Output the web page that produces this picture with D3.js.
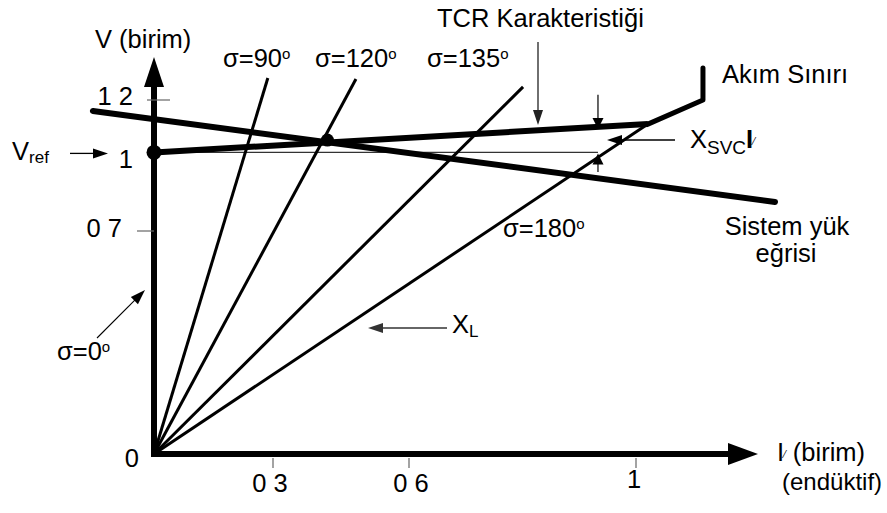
<!DOCTYPE html>
<html><head><meta charset="utf-8">
<script src="https://cdn.jsdelivr.net/npm/d3@7"></script>
<style>
body{margin:0;background:#fff}
svg{display:block;background:#fff}
text{font-family:"Liberation Sans",Arial,Helvetica,sans-serif;fill:#000}
</style>
</head><body>
<svg id="c" width="887" height="513"></svg>
<script>
// ---- data (per-unit, read from the schematic) ----
const xTickValues = [0.3, 0.6, 1];
const xTickLabels = ["0 3", "0 6", "1"];
const yTickValues = [1.2, 1, 0.7];
const yTickLabels = ["1 2", "1", "0 7"];
const sigmaNames = ["σ=90", "σ=120", "σ=135", "σ=180"];
const sigmaEndI = [0.287, 0.483, 0.801, 1.021];
const sigmaEndV = [1.284, 1.280, 1.250, 1.108];
const tcrI = [0, 1.021];
const tcrV = [1.0, 1.108];
const limitI = [1.021, 1.118, 1.118];
const limitV = [1.108, 1.2, 1.322];
const loadI = [-0.154, 1.245];
const loadV = [1.158, 0.811];
const vref = 1.0;
const opI = [0.42];
const opV = [1.047];
const svcMarkI = 0.933;
const svcMarkTopV = 1.22;
const svcMarkBotV = 0.925;

// ---- scales (schematic, piecewise) ----
const x = d3.scaleLinear().domain([0, 0.3, 0.6, 1]).range([154, 273, 409, 636]);
const y = d3.scaleLinear().domain([0, 0.7, 1.2]).range([454, 231, 100]);

const svg = d3.select("#c");
const g = svg.append("g");
const FS = 25.5;

function arrow(x1, y1, x2, y2, len, hw, sw, col) {
  col = col || "#000";
  const dx = x2 - x1, dy = y2 - y1, L = Math.hypot(dx, dy), ux = dx / L, uy = dy / L;
  const bx = x2 - ux * len, by = y2 - uy * len;
  g.append("line").attr("x1", x1).attr("y1", y1).attr("x2", bx + ux * 2).attr("y2", by + uy * 2)
    .attr("stroke", col).attr("stroke-width", sw);
  g.append("path").attr("d", `M${x2},${y2}L${bx - uy * hw},${by + ux * hw}L${bx + uy * hw},${by - ux * hw}Z`)
    .attr("fill", col);
}
function txt(xp, yp, s, size, anchor) {
  return g.append("text").attr("x", xp).attr("y", yp).attr("font-size", size)
    .attr("text-anchor", anchor || "start").text(s);
}

const line = d3.line().x(d => x(d[0])).y(d => y(d[1]));

// ---- Vref thin reference line ----
g.append("line").attr("x1", x(0)).attr("x2", x(svcMarkI)).attr("y1", y(vref)).attr("y2", y(vref))
  .attr("stroke", "#333").attr("stroke-width", 1.2);

// ---- sigma lines from origin ----
sigmaEndI.forEach((ei, i) => {
  g.append("path").attr("d", line([[0, 0], [ei, sigmaEndV[i]]]))
    .attr("stroke", "#000").attr("stroke-width", 3).attr("fill", "none");
});

// ---- axes ----
g.append("line").attr("x1", x(0)).attr("x2", 730).attr("y1", y(0)).attr("y2", y(0))
  .attr("stroke", "#000").attr("stroke-width", 6);
g.append("path").attr("d", `M758,${y(0)}L728,${y(0) - 11}L728,${y(0) + 11}Z`).attr("fill", "#000");
g.append("line").attr("x1", x(0)).attr("x2", x(0)).attr("y1", y(0) + 3).attr("y2", 85)
  .attr("stroke", "#000").attr("stroke-width", 6);
g.append("path").attr("d", `M${x(0)},57L${x(0) - 10},87L${x(0) + 10},87Z`).attr("fill", "#000");

// ---- ticks ----
const yTickX = [[147, 170], null, [137, 154]];
yTickValues.forEach((v, i) => {
  if (!yTickX[i]) return;
  g.append("line").attr("x1", yTickX[i][0]).attr("x2", yTickX[i][1]).attr("y1", y(v)).attr("y2", y(v))
    .attr("stroke", "#666").attr("stroke-width", 1.2);
});
const yLabelEnd = [133, 133, 122];
const yLabelDy = [5, 16, 6];
yTickValues.forEach((v, i) => txt(yLabelEnd[i], y(v) + yLabelDy[i], yTickLabels[i], FS, "end"));
xTickValues.forEach((v, i) => {
  g.append("line").attr("x1", x(v)).attr("x2", x(v)).attr("y1", y(0) + 4).attr("y2", y(0) + 14)
    .attr("stroke", "#666").attr("stroke-width", 1.2);
});
const xLabelDx = [-3, 2, -2];
const xLabelBase = [492, 492, 488];
xTickValues.forEach((v, i) => txt(x(v) + xLabelDx[i], xLabelBase[i], xTickLabels[i], FS, "middle"));
txt(139, 467, "0", FS, "end");

// ---- system load line ----
g.append("path").attr("d", line(loadI.map((d, i) => [d, loadV[i]])))
  .attr("stroke", "#000").attr("stroke-width", 6).attr("fill", "none").attr("stroke-linecap", "round");

// ---- TCR characteristic & current limit ----
g.append("path").attr("d", line(tcrI.map((d, i) => [d, tcrV[i]])))
  .attr("stroke", "#000").attr("stroke-width", 6).attr("fill", "none");
g.append("path").attr("d", line(limitI.map((d, i) => [d, limitV[i]])))
  .attr("stroke", "#000").attr("stroke-width", 5).attr("fill", "none")
  .attr("stroke-linecap", "round").attr("stroke-linejoin", "round");

// ---- points ----
g.append("circle").attr("cx", x(0)).attr("cy", y(vref)).attr("r", 7.5).attr("fill", "#000");
g.append("circle").attr("cx", x(opI[0])).attr("cy", y(opV[0])).attr("r", 6.5).attr("fill", "#000");

// ---- dimension arrows (X_SVC I) ----
const tcrPx = [[x(tcrI[0]), y(tcrV[0])], [x(tcrI[1]), y(tcrV[1])]];
const mx = x(svcMarkI);
const tcrAt = tcrPx[0][1] + (tcrPx[1][1] - tcrPx[0][1]) * (mx - tcrPx[0][0]) / (tcrPx[1][0] - tcrPx[0][0]);
arrow(mx, y(svcMarkTopV), mx, tcrAt + 2, 11, 5.5, 1.2);
arrow(mx, y(svcMarkBotV), mx, y(vref) + 1, 11, 5.5, 1.2);

// ---- annotation arrows ----
arrow(70, y(vref) + 1, 108, y(vref) + 1, 15, 5, 1.3);
arrow(538, 42, 538, 125, 15, 5, 1.3, "#222");
arrow(97, 338, 145, 290, 15, 5, 1.1);
arrow(447, 328, 368, 328, 15, 5, 1.3, "#333");
arrow(675, 140, 607, 140, 15, 5, 1.3);

// ---- labels ----
txt(95, 48, "V (birim)", FS);
const vr = txt(12, 160, "V", FS);
vr.append("tspan").attr("font-size", 17).attr("dy", 3).text("ref");

const sigX = [223, 315, 427, 503];
const sigY = [67, 67, 67, 237];
sigmaNames.forEach((s, i) => {
  const t = txt(sigX[i], sigY[i], s, FS);
  t.append("tspan").attr("font-size", 15).attr("dy", -8).text("o");
});
const s0 = txt(57, 360, "σ=0", FS);
s0.append("tspan").attr("font-size", 15).attr("dy", -8).text("o");

txt(437, 27, "TCR Karakteristiği", FS);
txt(722, 83, "Akım Sınırı", FS);

const xs = txt(690, 148, "X", FS);
xs.append("tspan").attr("font-size", 19).attr("dy", 6).text("SVC");
xs.append("tspan").attr("font-size", FS).attr("font-weight", "bold").attr("dy", -6).text("I");
xs.append("tspan").attr("font-size", 10).attr("dy", -3).text("⁄");

txt(787, 235, "Sistem yük", FS, "middle");
txt(786, 262, "eğrisi", FS, "middle");

const xl = txt(452, 333, "X", FS);
xl.append("tspan").attr("font-size", 17).attr("dy", 4).text("L");

const ia = txt(777, 461, "I", FS);
ia.append("tspan").attr("font-size", 10).attr("dy", -3).text("⁄");
ia.append("tspan").attr("font-size", FS).attr("dy", 3).text(" (birim)");
txt(782, 490, "(endüktif)", 24);
</script>
</body></html>
